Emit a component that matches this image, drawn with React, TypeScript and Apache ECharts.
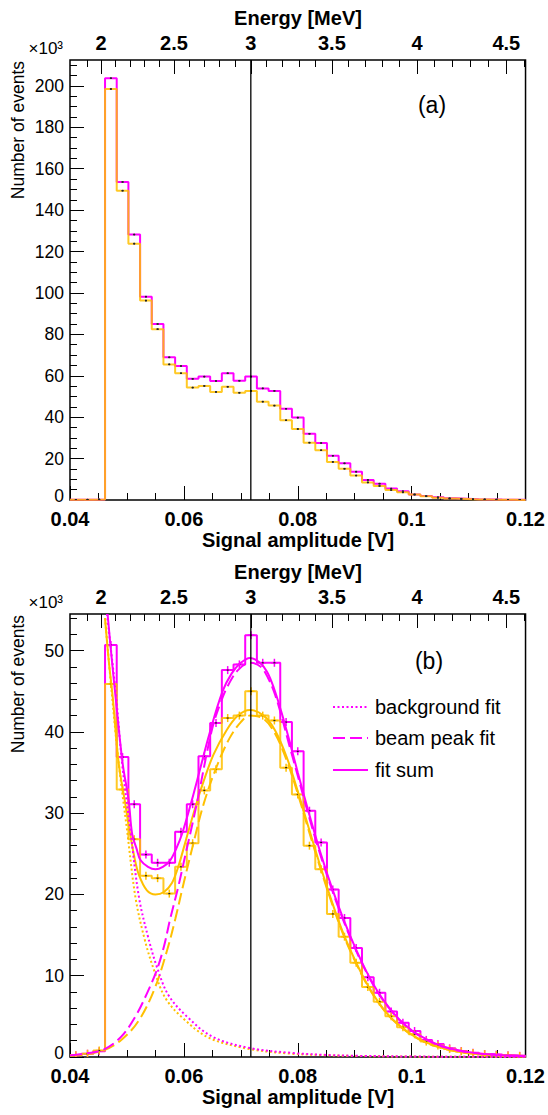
import React, { useEffect, useRef } from "react";
import * as echarts from "echarts";

// ---------- axis definitions ----------
const X_MIN = 0.04;
const X_MAX = 0.12;
const NBINS = 39;
const X_LABELS = [0.04, 0.06, 0.08, 0.1, 0.12];
const X_MINOR_STEP = 0.005;
const Y_A_MAX = 212.5;
const Y_A_LABELS = [0, 20, 40, 60, 80, 100, 120, 140, 160, 180, 200];
const Y_A_MINOR_STEP = 5;
const Y_B_MAX = 54.5;
const Y_B_LABELS = [0, 10, 20, 30, 40, 50];
const Y_B_MINOR_STEP = 2;
const ENERGY_MAJOR = [2, 2.5, 3, 3.5, 4, 4.5];
const ENERGY_MINOR = [1.9, 2.1, 2.2, 2.3, 2.4, 2.6, 2.7, 2.8, 2.9, 3.1, 3.2, 3.3, 3.4, 3.6, 3.7, 3.8, 3.9, 4.1, 4.2, 4.3, 4.4, 4.6];
// amplitude [V] = a + b*E + c*E^2
const CALIB = [0.0015848, 0.019044, 0.0014488];
const E_LINE = 3;

// ---------- histogram contents (x10^3 events per bin) ----------
const HIST_A_MAGENTA = [0.1, 0.15, 0.2, 203.7, 153.6, 128.2, 98.2, 85.0, 68.9, 64.7, 58.5, 59.6, 57.5, 61.2, 57.6, 59.6, 53.9, 52.7, 44.1, 39.8, 32.0, 27.5, 21.4, 17.7, 13.7, 9.7, 7.9, 5.5, 4.2, 2.7, 1.9, 1.3, 0.8, 0.6, 0.4, 0.3, 0.2, 0.15, 0.1];
const HIST_A_YELLOW = [0.1, 0.15, 0.2, 198.5, 149.4, 123.8, 96.3, 82.5, 65.5, 61.2, 54.3, 55.1, 52.2, 54.7, 51.8, 52.7, 47.5, 45.6, 38.5, 34.3, 27.7, 24.0, 18.4, 15.1, 11.8, 8.5, 6.8, 4.8, 3.7, 2.6, 1.8, 1.1, 0.7, 0.5, 0.3, 0.2, 0.15, 0.1, 0.05];
const HIST_B_MAGENTA = [0.2, 0.4, 0.7, 50.7, 36.9, 31.1, 24.9, 23.9, 23.9, 27.7, 31.1, 37.0, 41.1, 47.6, 48.3, 51.9, 48.5, 48.5, 41.2, 37.6, 30.3, 26.4, 20.6, 17.1, 13.4, 9.8, 7.9, 5.6, 4.2, 3.2, 2.1, 1.6, 1.07, 0.74, 0.53, 0.37, 0.3, 0.2, 0.15];
const HIST_B_YELLOW = [0.2, 0.4, 0.8, 45.9, 32.9, 26.8, 22.3, 22.0, 20.1, 23.4, 26.3, 32.8, 35.4, 41.7, 42.0, 45.0, 42.0, 41.4, 35.6, 32.3, 26.0, 23.1, 17.6, 14.8, 11.6, 8.6, 6.8, 5.0, 3.65, 2.8, 1.9, 1.4, 1.0, 0.7, 0.5, 0.35, 0.25, 0.18, 0.12];

// ---------- fit curves of panel (b) ----------
const BKG_M_X = [0.0465, 0.0468, 0.0481, 0.04915, 0.0506, 0.0521, 0.0537, 0.0553, 0.0573, 0.0605, 0.065, 0.0716, 0.079, 0.085, 0.09, 0.1, 0.11, 0.12];
const BKG_M_Y = [54.5, 52.6, 44.3, 36.1, 27.9, 19.7, 14.8, 11.0, 7.6, 5.0, 2.5, 1.1, 0.5, 0.25, 0.15, 0.06, 0.025, 0.01];
const PEAK_M_X = [0.04, 0.043, 0.046, 0.049, 0.0515, 0.0535, 0.0553, 0.0565, 0.0576, 0.0591, 0.0604, 0.0616, 0.0628, 0.064, 0.0652, 0.0664, 0.0676, 0.0695, 0.0716, 0.0735, 0.0748, 0.076, 0.0772, 0.0785, 0.08, 0.082, 0.084, 0.086, 0.088, 0.09, 0.092, 0.094, 0.096, 0.098, 0.1, 0.102, 0.104, 0.106, 0.108, 0.11, 0.115, 0.12];
const PEAK_M_Y = [0.2, 0.45, 0.95, 2.5, 5.0, 7.8, 10.8, 13.6, 17.0, 21.2, 25.3, 29.0, 33.0, 37.3, 41.0, 43.5, 45.5, 47.6, 48.5, 48.0, 46.6, 44.6, 41.8, 38.4, 34.6, 29.5, 24.8, 20.6, 16.8, 13.45, 10.5, 8.0, 6.05, 4.45, 3.25, 2.35, 1.65, 1.15, 0.8, 0.57, 0.24, 0.09];
const SUM_M_X = [0.0466, 0.0473, 0.048, 0.04925, 0.0503, 0.0509, 0.0517, 0.0524, 0.0537, 0.055, 0.0563, 0.0576, 0.0587, 0.0597, 0.0614, 0.0628, 0.0645, 0.0668, 0.0684, 0.07, 0.0716, 0.0732, 0.0746, 0.0758, 0.0771, 0.0785, 0.08, 0.082, 0.084, 0.086, 0.088, 0.09, 0.092, 0.094, 0.096, 0.098, 0.1, 0.102, 0.104, 0.106, 0.108, 0.11, 0.115, 0.12];
const SUM_M_Y = [54.5, 49.2, 44.3, 36.1, 31.6, 27.5, 25.6, 24.2, 23.4, 23.1, 23.4, 24.2, 25.7, 27.5, 31.6, 35.3, 39.8, 45.0, 47.2, 48.5, 49.1, 48.6, 47.4, 45.4, 42.5, 39.0, 35.0, 29.9, 25.1, 20.8, 17.0, 13.6, 10.6, 8.1, 6.1, 4.5, 3.3, 2.4, 1.7, 1.2, 0.85, 0.6, 0.25, 0.1];
const BKG_Y_X = [0.04615, 0.0474, 0.04856, 0.05002, 0.05148, 0.0531, 0.0548, 0.0568, 0.0598, 0.0643, 0.071, 0.078, 0.085, 0.09, 0.1, 0.11, 0.12];
const BKG_Y_Y = [54.0, 44.3, 36.1, 27.9, 19.7, 14.5, 10.6, 7.2, 4.8, 2.4, 1.05, 0.45, 0.22, 0.13, 0.05, 0.02, 0.01];
const PEAK_Y_X = [0.04, 0.043, 0.046, 0.049, 0.052, 0.0548, 0.057, 0.0585, 0.06, 0.0615, 0.0635, 0.0658, 0.068, 0.07, 0.0716, 0.074, 0.076, 0.078, 0.08, 0.082, 0.084, 0.086, 0.088, 0.09, 0.092, 0.094, 0.096, 0.098, 0.1, 0.102, 0.104, 0.106, 0.108, 0.11, 0.115, 0.12];
const PEAK_Y_Y = [0.15, 0.4, 0.85, 2.1, 4.4, 8.3, 13.0, 17.0, 21.5, 25.8, 31.2, 35.8, 39.2, 41.2, 42.0, 41.6, 39.8, 36.6, 32.4, 27.7, 23.15, 18.9, 15.05, 11.88, 9.1, 6.83, 5.05, 3.75, 2.71, 1.92, 1.38, 0.97, 0.67, 0.46, 0.18, 0.07];
const SUM_Y_X = [0.04615, 0.0468, 0.0475, 0.04856, 0.0497, 0.0503, 0.0513, 0.0521, 0.0535, 0.055, 0.0565, 0.0579, 0.0591, 0.0604, 0.0623, 0.0635, 0.0652, 0.0675, 0.0695, 0.0716, 0.074, 0.076, 0.078, 0.08, 0.082, 0.084, 0.086, 0.088, 0.09, 0.092, 0.094, 0.096, 0.098, 0.1, 0.102, 0.104, 0.106, 0.108, 0.11, 0.115, 0.12];
const SUM_Y_Y = [54.0, 48.8, 44.3, 36.1, 31.2, 28.5, 24.6, 22.4, 20.5, 20.0, 20.3, 21.4, 23.6, 26.8, 31.4, 34.0, 37.2, 40.2, 42.0, 42.7, 42.0, 40.2, 37.0, 32.7, 28.0, 23.4, 19.1, 15.2, 12.0, 9.2, 6.9, 5.1, 3.8, 2.75, 1.95, 1.4, 0.98, 0.68, 0.47, 0.18, 0.07];

const LEGEND = ["background fit", "beam peak fit", "fit sum"];

// ---------- styling ----------
const MAGENTA = "#ff00ff";
const YELLOW = "#ffc000";
const FONT = '"Liberation Sans", Arial, Helvetica, sans-serif';

const toV = (e: number) => CALIB[0] + CALIB[1] * e + CALIB[2] * e * e;
const range = (start: number, stop: number, step: number) => {
  const out: number[] = [];
  for (let v = start; v <= stop + 1e-9; v += step) out.push(+v.toFixed(6));
  return out;
};
const binEdge = (j: number) => X_MIN + (j * (X_MAX - X_MIN)) / NBINS;
const stepData = (vals: number[]) => {
  const d = vals.map((v, j) => [binEdge(j), v]);
  d.push([binEdge(vals.length), vals[vals.length - 1]]);
  return d;
};
const centerData = (vals: number[]) =>
  vals.map((v, j) => [(binEdge(j) + binEdge(j + 1)) / 2, v]);
const zip = (xs: number[], ys: number[]) => xs.map((x, i) => [x, ys[i]]);

const GRIDS = [
  { top: 60, height: 440, ymax: Y_A_MAX, labels: Y_A_LABELS, minor: Y_A_MINOR_STEP },
  { top: 614, height: 443, ymax: Y_B_MAX, labels: Y_B_LABELS, minor: Y_B_MINOR_STEP },
];

function buildOption() {
  const xMinor = range(X_MIN, X_MAX, X_MINOR_STEP).filter(
    (v) => !X_LABELS.some((l) => Math.abs(l - v) < 1e-9)
  );
  const eMajorV = ENERGY_MAJOR.map(toV);
  const eMinorV = ENERGY_MINOR.map(toV);
  const eLabel = (v: number) => {
    let best = ENERGY_MAJOR[0];
    ENERGY_MAJOR.forEach((e) => {
      if (Math.abs(toV(e) - v) < Math.abs(toV(best) - v)) best = e;
    });
    return String(best);
  };

  const grid: any[] = [];
  const xAxis: any[] = [];
  const yAxis: any[] = [];
  GRIDS.forEach((g, gi) => {
    grid.push({
      left: 70, width: 456, top: g.top, height: g.height,
      show: true, borderColor: "#000", borderWidth: 1.5, backgroundColor: "transparent",
    });
    const baseX = {
      gridIndex: gi, type: "value", min: X_MIN, max: X_MAX,
      axisLine: { show: false }, splitLine: { show: false },
    };
    xAxis.push({
      ...baseX, position: "bottom",
      axisTick: { inside: true, length: 14, customValues: X_LABELS, lineStyle: { color: "#000", width: 1 } },
      axisLabel: {
        customValues: X_LABELS, margin: 9, color: "#000", fontFamily: FONT, fontWeight: "bold", fontSize: 20,
        showMinLabel: true, showMaxLabel: true,
        formatter: (v: number) => String(parseFloat(v.toFixed(4))),
      },
    });
    xAxis.push({
      ...baseX, position: "bottom",
      axisTick: { inside: true, length: 7, customValues: xMinor, lineStyle: { color: "#000", width: 1 } },
      axisLabel: { show: false },
    });
    xAxis.push({
      ...baseX, position: "top",
      axisTick: { inside: true, length: 14, customValues: eMajorV, lineStyle: { color: "#000", width: 1 } },
      axisLabel: {
        customValues: eMajorV, margin: 7, color: "#000", fontFamily: FONT, fontWeight: "bold", fontSize: 20,
        formatter: (v: number) => eLabel(v),
      },
    });
    xAxis.push({
      ...baseX, position: "top",
      axisTick: { inside: true, length: 7, customValues: eMinorV, lineStyle: { color: "#000", width: 1 } },
      axisLabel: { show: false },
    });
    const yMinor = range(0, g.ymax, g.minor).filter((v) => !g.labels.includes(v));
    const baseY = {
      gridIndex: gi, type: "value", min: 0, max: g.ymax, position: "left",
      axisLine: { show: false }, splitLine: { show: false },
    };
    yAxis.push({
      ...baseY,
      axisTick: { inside: true, length: 14, customValues: g.labels, lineStyle: { color: "#000", width: 1 } },
      axisLabel: {
        customValues: g.labels, margin: 6, color: "#000", fontFamily: FONT, fontSize: 17.5,
        formatter: (v: number) => (v === 0 ? "{z|0}" : String(v)),
        rich: { z: { fontFamily: FONT, fontSize: 17.5, color: "#000", padding: [0, 0, 8, 0] } },
      },
    });
    yAxis.push({
      ...baseY,
      axisTick: { inside: true, length: 7, customValues: yMinor, lineStyle: { color: "#000", width: 1 } },
      axisLabel: { show: false },
    });
  });

  const hist = (gi: number, vals: number[], color: string, opacity: number) => ({
    type: "line", xAxisIndex: gi * 4, yAxisIndex: gi * 2, step: "end", symbol: "none",
    data: stepData(vals), z: 3,
    lineStyle: { color, width: 2, opacity },
  });

  const vLine = (gi: number) => ({
    type: "line", xAxisIndex: gi * 4, yAxisIndex: gi * 2, symbol: "none", z: 6, silent: true,
    data: [[toV(E_LINE), 0], [toV(E_LINE), GRIDS[gi].ymax]],
    lineStyle: { color: "#000", width: 1.3 },
  });

  const errors = (gi: number, vals: number[], color: string, h: number, v: number) => ({
    type: "custom", xAxisIndex: gi * 4, yAxisIndex: gi * 2, clip: true, z: 4,
    data: centerData(vals),
    renderItem: (_p: any, api: any) => {
      const p = api.coord([api.value(0), api.value(1)]);
      return {
        type: "group",
        children: [
          { type: "line", shape: { x1: p[0] - h, y1: p[1], x2: p[0] + h, y2: p[1] }, style: { stroke: color, lineWidth: 1.5 } },
          { type: "line", shape: { x1: p[0], y1: p[1] - v, x2: p[0], y2: p[1] + v }, style: { stroke: color, lineWidth: 1.5 } },
          { type: "rect", shape: { x: p[0] - 1, y: p[1] - 0.6, width: 2, height: 1.2 }, style: { fill: "#222" } },
        ],
      };
    },
  });

  const curve = (xs: number[], ys: number[], color: string, dash: any) => ({
    type: "line", xAxisIndex: 4, yAxisIndex: 2, symbol: "none", smooth: 0.35, z: 5,
    data: zip(xs, ys),
    lineStyle: { color, width: 2, type: dash },
  });

  const DOT = [2, 2.5];
  const DASH = [12, 5];

  const series: any[] = [
    hist(0, HIST_A_MAGENTA, MAGENTA, 1),
    hist(0, HIST_A_YELLOW, YELLOW, 0.85),
    errors(0, HIST_A_MAGENTA, "#444", 0.8, 0.8),
    errors(0, HIST_A_YELLOW, "#444", 0.8, 0.8),
    vLine(0),
    hist(1, HIST_B_MAGENTA, MAGENTA, 1),
    hist(1, HIST_B_YELLOW, YELLOW, 0.85),
    errors(1, HIST_B_MAGENTA, MAGENTA, 3.5, 4),
    errors(1, HIST_B_YELLOW, YELLOW, 3.5, 4),
    curve(BKG_Y_X, BKG_Y_Y, YELLOW, DOT),
    curve(PEAK_Y_X, PEAK_Y_Y, YELLOW, DASH),
    curve(SUM_Y_X, SUM_Y_Y, YELLOW, "solid"),
    curve(BKG_M_X, BKG_M_Y, MAGENTA, DOT),
    curve(PEAK_M_X, PEAK_M_Y, MAGENTA, DASH),
    curve(SUM_M_X, SUM_M_Y, MAGENTA, "solid"),
    vLine(1),
  ];

  const txt = (text: string, x: number, y: number, font: string, align = "center", extra: any = {}) => ({
    type: "text", x, y, z: 10, ...extra,
    style: { text, font, fill: "#000", align, verticalAlign: "middle" },
  });

  const graphic: any[] = [];
  const offsets = [0, 554];
  const bottomOffsets = [0, 557];
  offsets.forEach((o, gi) => {
    graphic.push(txt("Energy [MeV]", 298, 18 + o, `bold 20px ${FONT}`));
    graphic.push(txt("Signal amplitude [V]", 298, 540 + bottomOffsets[gi], `bold 20px ${FONT}`));
    graphic.push(txt("×10³", 63, 48 + o, `17px ${FONT}`, "right"));
    graphic.push(txt("Number of events", 18, 61 + o, `17.5px ${FONT}`, "right", { rotation: Math.PI / 2 }));
  });
  graphic.push(txt("(a)", 432, 105, `23px ${FONT}`));
  graphic.push(txt("(b)", 429, 661, `23px ${FONT}`));

  const legendY = [707, 738, 770];
  const legendDash = [DOT, DASH, null];
  LEGEND.forEach((name, i) => {
    graphic.push({
      type: "line", z: 10,
      shape: { x1: 333, y1: legendY[i], x2: 368, y2: legendY[i] },
      style: { stroke: MAGENTA, lineWidth: 2, lineDash: legendDash[i] || undefined },
    });
    graphic.push(txt(name, 375, legendY[i], `20px ${FONT}`, "left"));
  });

  return {
    animation: false,
    backgroundColor: "#fff",
    grid, xAxis, yAxis, series, graphic,
  };
}

export default function App() {
  const ref = useRef<HTMLDivElement>(null);
  useEffect(() => {
    if (!ref.current) return;
    const chart = echarts.init(ref.current, null, { renderer: "svg" });
    chart.setOption(buildOption() as any);
    return () => chart.dispose();
  }, []);
  return (
    <div
      ref={ref}
      style={{ position: "absolute", left: 0, top: 0, width: 548, height: 1115, background: "#fff" }}
    />
  );
}
